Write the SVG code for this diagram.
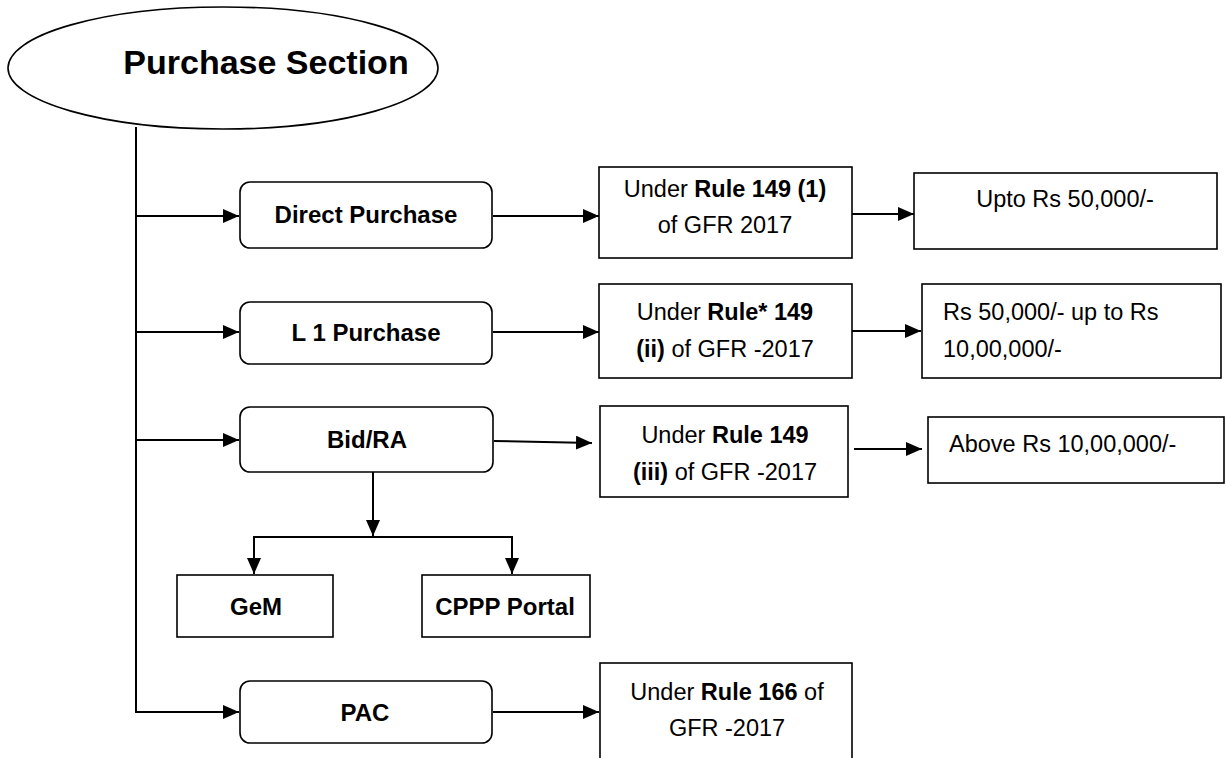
<svg xmlns="http://www.w3.org/2000/svg" width="1226" height="758" viewBox="0 0 1226 758">
<style>
.box{fill:#fff;stroke:#000;stroke-width:1.6}
.ln{fill:none;stroke:#000;stroke-width:2}
.bt{font-family:"Liberation Sans",Arial,sans-serif;font-weight:bold;font-size:24px;fill:#000}
.title{font-size:34px}
.rt{font-family:"Liberation Sans",Arial,sans-serif;font-size:23.5px;fill:#000}
.b{font-weight:bold}
</style>
<defs>
<marker id="ah" markerUnits="userSpaceOnUse" viewBox="0 0 16 14" markerWidth="16" markerHeight="14" refX="16" refY="7" orient="auto">
<path d="M0,0 L16,7 L0,14 z" fill="#000"/>
</marker>
</defs>
<rect width="1226" height="758" fill="#fff"/>

<g id="connectors">
<path class="ln" d="M136,127 V712"/>
<path class="ln" d="M136,216 H239" marker-end="url(#ah)"/>
<path class="ln" d="M136,332 H239" marker-end="url(#ah)"/>
<path class="ln" d="M136,440 H239" marker-end="url(#ah)"/>
<path class="ln" d="M135,712 H239" marker-end="url(#ah)"/>
<path class="ln" d="M493,216 H599" marker-end="url(#ah)"/>
<path class="ln" d="M493,332 H599" marker-end="url(#ah)"/>
<path class="ln" d="M494,441 L592,443" marker-end="url(#ah)"/>
<path class="ln" d="M493,712 H599" marker-end="url(#ah)"/>
<path class="ln" d="M847,214 H914" marker-end="url(#ah)"/>
<path class="ln" d="M852,331 H921" marker-end="url(#ah)"/>
<path class="ln" d="M854,449 H922" marker-end="url(#ah)"/>
<path class="ln" d="M373,472 V536" marker-end="url(#ah)"/>
<path class="ln" d="M254,537 H512"/>
<path class="ln" d="M254,536 V574" marker-end="url(#ah)"/>
<path class="ln" d="M512,536 V574" marker-end="url(#ah)"/>
</g>

<g id="purchase-section">
<ellipse cx="223" cy="68" rx="215" ry="61" class="box"/>
<text x="266" y="74" class="bt title" text-anchor="middle">Purchase Section</text>
</g>

<g id="direct-purchase">
<rect x="240" y="182" width="252" height="66" rx="10" class="box"/>
<text x="366" y="223" class="bt" text-anchor="middle">Direct Purchase</text>
</g>
<g id="l1-purchase">
<rect x="240" y="302" width="252" height="62" rx="10" class="box"/>
<text x="366" y="341" class="bt" text-anchor="middle">L 1 Purchase</text>
</g>
<g id="bid-ra">
<rect x="240" y="407" width="253" height="65" rx="10" class="box"/>
<text x="367" y="448" class="bt" text-anchor="middle">Bid/RA</text>
</g>
<g id="gem">
<rect x="177" y="575" width="156" height="62" class="box"/>
<text x="256" y="615" class="bt" text-anchor="middle">GeM</text>
</g>
<g id="cppp">
<rect x="422" y="575" width="168" height="62" class="box"/>
<text x="505" y="615" class="bt" text-anchor="middle">CPPP Portal</text>
</g>
<g id="pac">
<rect x="240" y="681" width="252" height="62" rx="10" class="box"/>
<text x="365" y="721" class="bt" text-anchor="middle">PAC</text>
</g>

<g id="rule-149-1">
<rect x="599" y="167" width="253" height="91" class="box"/>
<text x="725" y="197" class="rt" text-anchor="middle">Under <tspan class="b">Rule 149 (1)</tspan></text>
<text x="725" y="233" class="rt" text-anchor="middle">of GFR 2017</text>
</g>
<g id="rule-149-ii">
<rect x="599" y="284" width="253" height="94" class="box"/>
<text x="725" y="320" class="rt" text-anchor="middle">Under <tspan class="b">Rule* 149</tspan></text>
<text x="725" y="357" class="rt" text-anchor="middle"><tspan class="b">(ii)</tspan> of GFR -2017</text>
</g>
<g id="rule-149-iii">
<rect x="600" y="406" width="248" height="91" class="box"/>
<text x="725" y="443" class="rt" text-anchor="middle">Under <tspan class="b">Rule 149</tspan></text>
<text x="725" y="480" class="rt" text-anchor="middle"><tspan class="b">(iii)</tspan> of GFR -2017</text>
</g>
<g id="rule-166">
<rect x="600" y="663" width="252" height="110" class="box"/>
<text x="727" y="700" class="rt" text-anchor="middle">Under <tspan class="b">Rule 166</tspan> of</text>
<text x="727" y="736" class="rt" text-anchor="middle">GFR -2017</text>
</g>

<g id="upto-50000">
<rect x="914" y="173" width="303" height="76" class="box"/>
<text x="1065" y="207" class="rt" text-anchor="middle">Upto Rs 50,000/-</text>
</g>
<g id="range-50000-1000000">
<rect x="922" y="284" width="299" height="94" class="box"/>
<text x="943" y="320" class="rt">Rs 50,000/- up to Rs</text>
<text x="943" y="357" class="rt">10,00,000/-</text>
</g>
<g id="above-1000000">
<rect x="928" y="417" width="296" height="66" class="box"/>
<text x="949" y="452" class="rt">Above Rs 10,00,000/-</text>
</g>
</svg>
